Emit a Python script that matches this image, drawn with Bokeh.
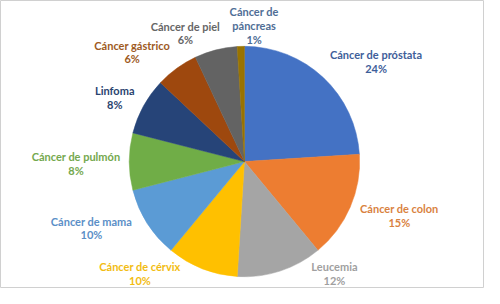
import math
from bokeh.plotting import figure
from bokeh.models import Range1d, ColumnDataSource
from bokeh.core.properties import value
from bokeh.embed import file_html
from bokeh.resources import INLINE

# Data
categories = ["Cáncer de próstata", "Cáncer de colon", "Leucemia", "Cáncer de cérvix",
              "Cáncer de mama", "Cáncer de pulmón", "Linfoma", "Cáncer gástrico",
              "Cáncer de piel", "Cáncer de páncreas"]
percents = [24, 15, 12, 10, 10, 8, 8, 6, 6, 1]
slice_colors = ["#4472C4", "#ED7D31", "#A5A5A5", "#FFC000", "#5B9BD5",
                "#70AD47", "#264478", "#9E480E", "#636363", "#997300"]
label_colors = ["#3E5E9A", "#D9823F", "#A0A0A0", "#F2BC12", "#5B8FC7",
                "#74A84E", "#2A4470", "#9E5A1E", "#666666", "#4F6E96"]
label_lines = [["Cáncer de próstata"], ["Cáncer de colon"], ["Leucemia"], ["Cáncer de cérvix"],
               ["Cáncer de mama"], ["Cáncer de pulmón"], ["Linfoma"], ["Cáncer gástrico"],
               ["Cáncer de piel"], ["Cáncer de", "páncreas"]]

# Layout (reference-pixel coordinates)
cx, cy, r = 252, 170, 119
label_pos = [(388, 57), (412, 220), (345, 281), (144, 281), (94, 233),
             (78, 165), (118, 95), (136, 47), (191, 27), (262, 12)]
line_gap = 14.5

W, H = 484, 288
p = figure(width=W, height=H, output_backend="svg", toolbar_location=None,
           x_range=Range1d(0, 500), y_range=Range1d(304, 0),
           min_border=0, background_fill_color="white", border_fill_color="white")
p.axis.visible = False
p.grid.visible = False
p.outline_line_color = "#D0D0D0"
p.outline_line_width = 1

total = sum(percents)
starts, ends = [], []
cum = 0.0
for v in percents:
    a0 = math.pi / 2 - 2 * math.pi * cum / total
    cum += v
    a1 = math.pi / 2 - 2 * math.pi * cum / total
    starts.append(a1)
    ends.append(a0)

src = ColumnDataSource(dict(x=[cx] * len(percents), y=[cy] * len(percents),
                            start=starts, end=ends, color=slice_colors))
p.wedge(x="x", y="y", radius=r, start_angle="start", end_angle="end",
        direction="anticlock", fill_color="color", line_color="color",
        line_width=0.5, source=src)

tx, ty, tt, tc = [], [], [], []
for i, v in enumerate(percents):
    lines = label_lines[i] + [f"{v}%"]
    x0, y0 = label_pos[i]
    for j, s in enumerate(lines):
        tx.append(x0)
        ty.append(y0 + j * line_gap)
        tt.append(s)
        tc.append(label_colors[i])

tsrc = ColumnDataSource(dict(x=tx, y=ty, text=tt, color=tc))
p.text(x="x", y="y", text="text", text_color="color", source=tsrc,
       text_align="center", text_baseline="middle",
       text_font=value("Lato"), text_font_size="11px", text_font_style="bold")

open("out.html", "w").write(file_html(p, INLINE))
